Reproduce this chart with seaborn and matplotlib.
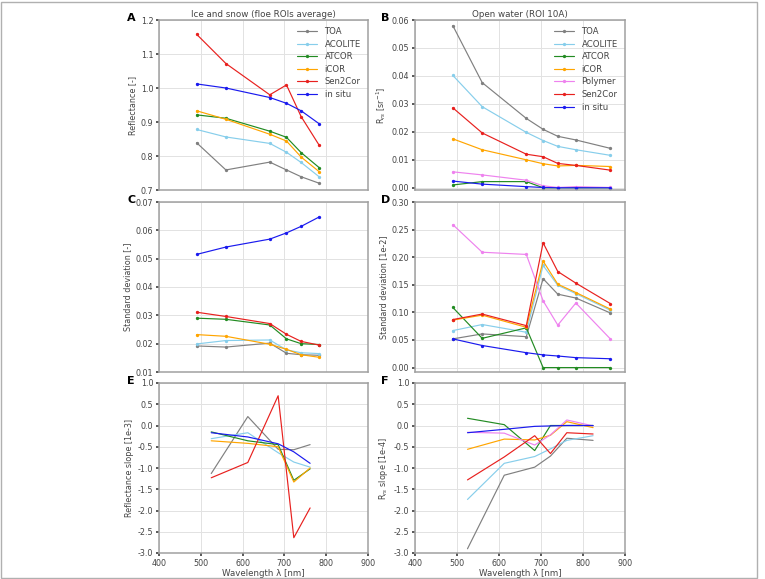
import numpy as np
import pandas as pd
import seaborn as sns
import matplotlib
matplotlib.use("Agg")
import matplotlib.pyplot as plt
from matplotlib.patches import Rectangle
from matplotlib.ticker import FormatStrFormatter

# ---------------- data ----------------
wl_ice = [490, 560, 665, 705, 740, 783]
wl_water = [490, 560, 665, 705, 740, 783, 865]
wl_slope_ice = [525, 612.5, 685, 722.5, 761.5]
wl_slope_water = [525, 612.5, 685, 722.5, 761.5, 824]

# Panel A: ice & snow reflectance
refl_ice = {
    "TOA":     [0.839, 0.759, 0.782, 0.759, 0.739, 0.720],
    "ACOLITE": [0.878, 0.856, 0.837, 0.811, 0.781, 0.739],
    "ATCOR":   [0.921, 0.911, 0.873, 0.855, 0.810, 0.766],
    "iCOR":    [0.933, 0.908, 0.864, 0.844, 0.797, 0.754],
    "Sen2Cor": [1.158, 1.072, 0.980, 1.009, 0.916, 0.832],
    "in situ": [1.012, 1.000, 0.972, 0.955, 0.933, 0.895],
}
# Panel B: open water Rrs
rrs_water = {
    "TOA":     [0.0580, 0.0376, 0.0248, 0.0209, 0.0184, 0.0171, 0.0141],
    "ACOLITE": [0.0402, 0.0290, 0.0198, 0.0169, 0.0148, 0.0136, 0.0116],
    "ATCOR":   [0.0010, 0.0022, 0.0022, 0.0000, 0.0000, 0.0000, 0.0000],
    "iCOR":    [0.0175, 0.0136, 0.0100, 0.0086, 0.0078, 0.0080, 0.0076],
    "Polymer": [0.0057, 0.0046, 0.0027, 0.0007, 0.0001, 0.0004, 0.0001],
    "Sen2Cor": [0.0286, 0.0196, 0.0120, 0.0111, 0.0087, 0.0080, 0.0063],
    "in situ": [0.0024, 0.0013, 0.0004, 0.0001, 0.0000, 0.0000, 0.0000],
}
# Panel C: std ice
std_ice = {
    "TOA":     [0.0192, 0.0188, 0.0202, 0.0166, 0.0161, 0.0159],
    "ACOLITE": [0.0199, 0.0211, 0.0213, 0.0178, 0.0168, 0.0165],
    "ATCOR":   [0.0290, 0.0286, 0.0266, 0.0217, 0.0200, 0.0197],
    "iCOR":    [0.0232, 0.0226, 0.0198, 0.0180, 0.0161, 0.0152],
    "Sen2Cor": [0.0311, 0.0296, 0.0271, 0.0233, 0.0208, 0.0195],
    "in situ": [0.0515, 0.0541, 0.0569, 0.0591, 0.0614, 0.0647],
}
# Panel D: std water
std_water = {
    "TOA":     [0.052, 0.061, 0.056, 0.161, 0.133, 0.126, 0.099],
    "ACOLITE": [0.067, 0.078, 0.064, 0.185, 0.149, 0.134, 0.104],
    "ATCOR":   [0.109, 0.053, 0.072, 0.000, 0.000, 0.000, 0.000],
    "iCOR":    [0.086, 0.095, 0.073, 0.193, 0.151, 0.136, 0.106],
    "Polymer": [0.259, 0.209, 0.205, 0.121, 0.077, 0.117, 0.052],
    "Sen2Cor": [0.087, 0.097, 0.076, 0.226, 0.174, 0.153, 0.116],
    "in situ": [0.052, 0.040, 0.027, 0.023, 0.021, 0.018, 0.016],
}
# Panel E: slope ice
slope_ice = {
    "TOA":     [-1.13, 0.21, -0.56, -0.57, -0.45],
    "ACOLITE": [-0.31, -0.17, -0.64, -0.86, -0.98],
    "ATCOR":   [-0.15, -0.36, -0.45, -1.29, -1.02],
    "iCOR":    [-0.36, -0.42, -0.50, -1.33, -1.00],
    "Sen2Cor": [-1.23, -0.87, 0.70, -2.64, -1.94],
    "in situ": [-0.17, -0.27, -0.43, -0.62, -0.89],
}
# Panel F: slope water
slope_water = {
    "TOA":     [-2.90, -1.17, -0.98, -0.72, -0.30, -0.35],
    "ACOLITE": [-1.74, -0.89, -0.73, -0.55, -0.35, -0.24],
    "ATCOR":   [0.17, 0.02, -0.59, 0.00, 0.00, 0.00],
    "iCOR":    [-0.56, -0.32, -0.34, -0.23, 0.09, -0.05],
    "Polymer": [-0.16, -0.18, -0.46, -0.22, 0.13, -0.01],
    "Sen2Cor": [-1.28, -0.74, -0.24, -0.66, -0.17, -0.20],
    "in situ": [-0.17, -0.09, -0.02, -0.01, 0.00, 0.00],
}

palette = {
    "TOA": "#808080",
    "ACOLITE": "#87ceeb",
    "ATCOR": "#228b22",
    "iCOR": "#ffa500",
    "Polymer": "#ee82ee",
    "Sen2Cor": "#e8201e",
    "in situ": "#1a1aee",
}

# ---------------- style ----------------
sns.set_theme(style="whitegrid")
FS = 5.8
plt.rcParams.update({
    "font.family": ["DejaVu Sans"],
    "axes.edgecolor": "#a0a0a0",
    "axes.linewidth": 1.1,
    "grid.color": "#e2e2e2",
    "grid.linewidth": 0.7,
    "xtick.labelsize": FS,
    "ytick.labelsize": FS,
    "axes.labelsize": FS,
    "text.color": "#444444",
    "axes.labelcolor": "#444444",
    "xtick.color": "#444444",
    "ytick.color": "#444444",
    "xtick.bottom": True,
    "ytick.left": True,
    "xtick.major.size": 2.0,
    "ytick.major.size": 2.0,
    "xtick.major.pad": 2.0,
    "ytick.major.pad": 2.0,
    "axes.labelpad": 2.5,
})

fig = plt.figure(figsize=(7.65, 5.79), dpi=100)

W, H = 765, 579
def ax_at(l, t, r, b):
    return fig.add_axes([l / W, 1 - b / H, (r - l) / W, (b - t) / H])

rows = [(20, 190), (202, 372), (383, 553)]
cols = [(159, 368), (415, 625)]

axA = ax_at(cols[0][0], rows[0][0], cols[0][1], rows[0][1])
axB = ax_at(cols[1][0], rows[0][0], cols[1][1], rows[0][1])
axC = ax_at(cols[0][0], rows[1][0], cols[0][1], rows[1][1])
axD = ax_at(cols[1][0], rows[1][0], cols[1][1], rows[1][1])
axE = ax_at(cols[0][0], rows[2][0], cols[0][1], rows[2][1])
axF = ax_at(cols[1][0], rows[2][0], cols[1][1], rows[2][1])


def long_df(wl, d):
    recs = []
    for name, vals in d.items():
        for x, v in zip(wl, vals):
            recs.append({"wl": x, "val": v, "method": name})
    return pd.DataFrame(recs)


def draw(ax, wl, d, markers=True, legend=False):
    df = long_df(wl, d)
    order = list(d.keys())
    kw = dict(marker="o", markersize=2.4, markeredgewidth=0) if markers else {}
    sns.lineplot(data=df, x="wl", y="val", hue="method", hue_order=order,
                 palette={k: palette[k] for k in order}, ax=ax,
                 linewidth=0.85, sort=False, legend=legend, **kw)
    ax.set_xlim(400, 900)
    ax.set_xticks([400, 500, 600, 700, 800, 900])
    ax.set_xlabel("")
    for s in ax.spines.values():
        s.set_visible(True)
        s.set_color("#a0a0a0")


draw(axA, wl_ice, refl_ice, legend=True)
draw(axB, wl_water, rrs_water, legend=True)
draw(axC, wl_ice, std_ice)
draw(axD, wl_water, std_water)
draw(axE, wl_slope_ice, slope_ice, markers=False)
draw(axF, wl_slope_water, slope_water, markers=False)

for ax in (axA, axB):
    ax.legend(loc="upper right", frameon=False, fontsize=FS + 0.3,
              handlelength=2.3, labelspacing=0.42, borderaxespad=0.45,
              handletextpad=0.9)

for ax in (axA, axB, axC, axD):
    ax.tick_params(axis="x", labelbottom=False, bottom=False)

axA.set_ylim(0.7, 1.2)
axA.set_yticks(np.arange(0.7, 1.21, 0.1))
axA.yaxis.set_major_formatter(FormatStrFormatter("%.1f"))
axB.set_ylim(-0.0008, 0.06)
axB.set_yticks(np.arange(0, 0.061, 0.01))
axB.yaxis.set_major_formatter(FormatStrFormatter("%.2f"))
axC.set_ylim(0.01, 0.07)
axC.set_yticks(np.arange(0.01, 0.071, 0.01))
axC.yaxis.set_major_formatter(FormatStrFormatter("%.2f"))
axD.set_ylim(-0.008, 0.30)
axD.set_yticks(np.arange(0, 0.301, 0.05))
axD.yaxis.set_major_formatter(FormatStrFormatter("%.2f"))
for ax in (axE, axF):
    ax.set_ylim(-3.0, 1.0)
    ax.set_yticks(np.arange(-3.0, 1.01, 0.5))
    ax.yaxis.set_major_formatter(FormatStrFormatter("%.1f"))
    ax.set_xlabel("Wavelength λ [nm]", fontsize=FS + 0.4, labelpad=1.0)

axA.set_ylabel("Reflectance [-]")
axB.set_ylabel(r"R$_{rs}$ [sr$^{-1}$]")
axC.set_ylabel("Standard deviation [-]")
axD.set_ylabel("Standard deviation [1e-2]")
axE.set_ylabel("Reflectance slope [1e-3]")
axF.set_ylabel(r"R$_{rs}$ slope [1e-4]")

axA.set_title("Ice and snow (floe ROIs average)", fontsize=FS + 0.5, pad=2.5,
              color="#444444")
axB.set_title("Open water (ROI 10A)", fontsize=FS + 0.5, pad=2.5,
              color="#444444")

letters = [("A", 127, rows[0][0]), ("B", 381, rows[0][0]),
           ("C", 127, rows[1][0]), ("D", 381, rows[1][0]),
           ("E", 127, rows[2][0]), ("F", 381, rows[2][0])]
for lt, x, y in letters:
    fig.text(x / W, 1 - (y - 7) / H, lt, fontsize=8, fontweight="bold",
             color="black", ha="left", va="top")

fig.patches.append(Rectangle((1 / W, 1 / H), 756 / W, 576 / H,
                             transform=fig.transFigure, fill=False,
                             edgecolor="#b0b0b0", linewidth=1.0))

fig.savefig("out.png", dpi=100, facecolor="white")
